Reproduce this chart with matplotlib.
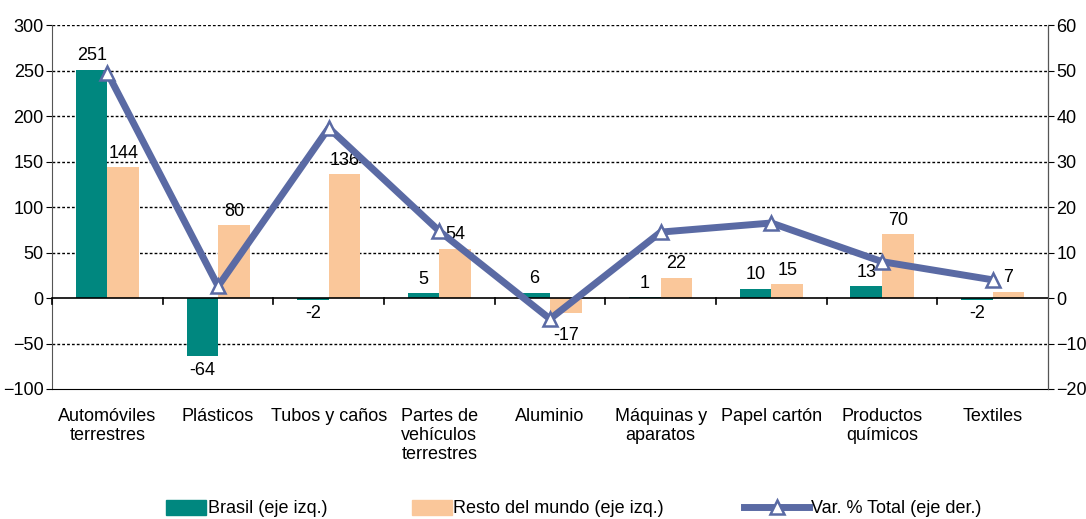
import matplotlib
matplotlib.use("Agg")
import matplotlib.pyplot as plt
from matplotlib.patches import Patch
from matplotlib.lines import Line2D
import numpy as np

plt.rcParams['font.family'] = ['Liberation Sans Narrow', 'Liberation Sans', 'DejaVu Sans']

categories = ["Automóviles\nterrestres", "Plásticos", "Tubos y caños", "Partes de\nvehículos\nterrestres",
              "Aluminio", "Máquinas y\naparatos", "Papel cartón", "Productos\nquímicos", "Textiles"]
brasil = [251, -64, -2, 5, 6, 1, 10, 13, -2]
resto = [144, 80, 136, 54, -17, 22, 15, 70, 7]
var_total = [49.5, 2.6, 37.4, 14.7, -4.6, 14.5, 16.5, 8.0, 4.0]
left_ticks = [-100, -50, 0, 50, 100, 150, 200, 250, 300]
right_ticks = [-20, -10, 0, 10, 20, 30, 40, 50, 60]

c_br = "#00877F"
c_re = "#FAC79A"
c_ln = "#5A6AA4"

fig = plt.figure(figsize=(10.86, 5.19), dpi=100)
ax = fig.add_axes([0.048, 0.2505, 0.917, 0.701])
ax2 = ax.twinx()

x = np.arange(len(categories))
w = 0.285
bb = ax.bar(x - w/2, brasil, w, color=c_br, zorder=2)
br = ax.bar(x + w/2, resto, w, color=c_re, zorder=2)

ax.set_ylim(-100, 300)
ax.set_xlim(-0.5, len(categories) - 0.5)
ax.set_yticks(left_ticks)
ax.set_xticks(x)
ax.set_xticklabels(categories, fontsize=13, va='top', linespacing=1.15)
ax.tick_params(axis='x', length=0, pad=14)
ax.tick_params(axis='y', labelsize=13, length=4, direction='out', pad=2)

for g in left_ticks:
    if g not in (0, -100, 300):
        ax.axhline(g, color='black', lw=1.0, ls=(0, (2, 1.5)), zorder=1)
ax.axhline(300, color='black', lw=1.0, ls=(0, (2, 1.5)), zorder=1)
ax.axhline(0, color='black', lw=1.2, zorder=3)
for i in range(len(categories)):
    ax.plot([i - 0.5, i - 0.5], [0, -7], color='black', lw=1.2, zorder=3, clip_on=False)

for s in ['top']:
    ax.spines[s].set_visible(False)
    ax2.spines[s].set_visible(False)
ax.spines['left'].set_color('#555555')
ax2.spines['right'].set_color('#555555')
ax.spines['bottom'].set_color('black')
ax2.spines['left'].set_visible(False)
ax2.spines['bottom'].set_visible(False)

ax2.set_ylim(-20, 60)
ax2.set_yticks(right_ticks)
ax2.tick_params(axis='y', labelsize=13, length=4, direction='out', pad=2)
ax2.plot(x, var_total, color=c_ln, lw=5, marker='^', markersize=10,
         markerfacecolor='white', markeredgecolor=c_ln, markeredgewidth=1.8, zorder=5)

for xi, v in zip(x, brasil):
    ax.annotate(str(v), (xi - w/2, v), xytext=(0, 4 if v >= 0 else -4), textcoords='offset points',
                ha='center', va='bottom' if v >= 0 else 'top', fontsize=13)
for xi, v in zip(x, resto):
    ax.annotate(str(v), (xi + w/2, v), xytext=(0, 4 if v >= 0 else -10), textcoords='offset points',
                ha='center', va='bottom' if v >= 0 else 'top', fontsize=13)

fs = 13
fig.legend(handles=[Patch(color=c_br)], labels=["Brasil (eje izq.)"], loc='center left',
           bbox_to_anchor=(0.145, 0.02), frameon=False, fontsize=fs, handlelength=2.2, handleheight=0.9,
           handletextpad=0.1, borderpad=0)
fig.legend(handles=[Patch(color=c_re)], labels=["Resto del mundo (eje izq.)"], loc='center left',
           bbox_to_anchor=(0.371, 0.02), frameon=False, fontsize=fs, handlelength=2.2, handleheight=0.9,
           handletextpad=0.1, borderpad=0)
fig.legend(handles=[Line2D([], [], color=c_ln, lw=5, marker='^', markersize=10, markerfacecolor='white',
                           markeredgecolor=c_ln, markeredgewidth=1.8)],
           labels=["Var. % Total (eje der.)"], loc='center left',
           bbox_to_anchor=(0.677, 0.02), frameon=False, fontsize=fs, handlelength=3.6,
           handletextpad=0.1, borderpad=0)

fig.savefig("out.png", dpi=100)
